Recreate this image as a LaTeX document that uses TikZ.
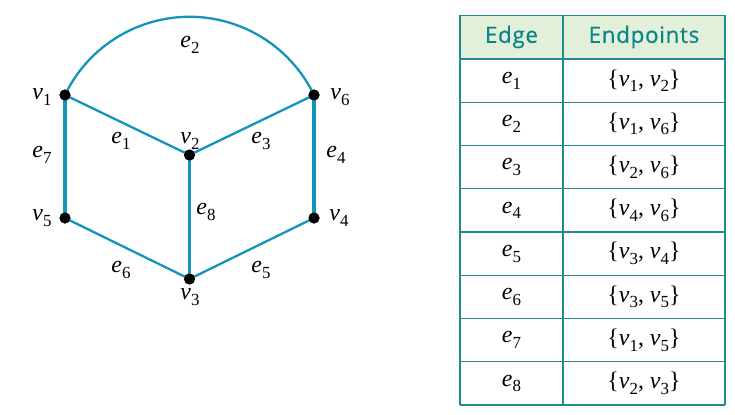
\documentclass[tikz,border=0pt]{standalone}
\usepackage{fontspec}
\newfontfamily\tms{Liberation Serif}
\newfontfamily\hdr[LetterSpace=3,FakeBold=0.6]{Open Sans}
\definecolor{edgeblue}{RGB}{20,148,188}
\definecolor{tealline}{RGB}{30,140,140}
\definecolor{tealtext}{RGB}{10,134,138}
\definecolor{hdrfill}{RGB}{226,239,217}
\newcommand\lab[2]{{\tms\textit{#1}\raisebox{-0.24em}{\fontsize{17}{17}\selectfont #2}}}
\newcommand\pr[2]{{\tms\{\lab{v}{#1}, \lab{v}{#2}\}}}
\begin{document}
\begin{tikzpicture}[x=1bp,y=1bp,
  dot/.style={circle,fill=black,inner sep=0pt,minimum size=11bp},
  thinedge/.style={draw=edgeblue,line width=2.3bp},
  thickedge/.style={draw=edgeblue,line width=3.3bp},
  lbl/.style={inner sep=0pt,font=\tms\fontsize{24}{24}\selectfont},
  tline/.style={draw=tealline,line width=1.3bp},
  hd/.style={inner sep=0pt,text=tealtext,font=\hdr\fontsize{22.5}{22.5}\selectfont},
  cell/.style={inner sep=0pt,font=\tms\fontsize{24}{24}\selectfont}]
\useasboundingbox (0,0) rectangle (735,414);
% vertices
\node[dot] (v1) at (65,319) {};
\node[dot] (v6) at (314,319) {};
\node[dot] (v2) at (189.5,259) {};
\node[dot] (v5) at (65,196) {};
\node[dot] (v4) at (314,196) {};
\node[dot] (v3) at (189.5,135) {};
% edges
\draw[thinedge] (v1.center) -- (v2.center);
\draw[thinedge] (v2.center) -- (v6.center);
\draw[thinedge] (v5.center) -- (v3.center);
\draw[thinedge] (v3.center) -- (v4.center);
\draw[thickedge] (v1.center) -- (v5.center);
\draw[thickedge] (v6.center) -- (v4.center);
\draw[thickedge] (v2.center) -- (v3.center);
\draw[thinedge] (v1.center) arc[start angle=154.27, end angle=25.73, radius=138.2bp];
% redraw dots on top
\foreach \n in {v1,v2,v3,v4,v5,v6} \fill (\n) circle[radius=5.5bp];
% labels
\node[lbl] (lv1) at (42,317) {\lab{v}{1}};
\node[lbl] (lv6) at (340,317) {\lab{v}{6}};
\node[lbl] (lv2) at (190,273) {\lab{v}{2}};
\node[lbl] (lv5) at (42,196) {\lab{v}{5}};
\node[lbl] (lv4) at (339,196) {\lab{v}{4}};
\node[lbl] (lv3) at (190,117) {\lab{v}{3}};
\node[lbl] (le1) at (121,273) {\lab{e}{1}};
\node[lbl] (le3) at (261,273) {\lab{e}{3}};
\node[lbl] (le7) at (42,259) {\lab{e}{7}};
\node[lbl] (le4) at (336,259) {\lab{e}{4}};
\node[lbl] (le8) at (206,202) {\lab{e}{8}};
\node[lbl] (le6) at (121,144) {\lab{e}{6}};
\node[lbl] (le5) at (261,144) {\lab{e}{5}};
\node[lbl] (le2) at (190,369) {\lab{e}{2}};
% table
\fill[hdrfill] (460,355) rectangle (725,398.5);
\foreach \k in {0,...,8} \draw[tline] (460,{355-43.25*\k}) -- (725,{355-43.25*\k});
\draw[tline] (460,398.5) -- (725,398.5);
\draw[tline] (460,398.5) -- (460,9);
\draw[tline] (563,398.5) -- (563,9);
\draw[tline] (725,398.5) -- (725,9);
\node[hd] (h1) at (511.5,377) {Edge};
\node[hd] (h2) at (644,377) {Endpoints};
\foreach \e/\a/\b [count=\i from 0] in {1/1/2,2/1/6,3/2/6,4/4/6,5/3/4,6/3/5,7/1/5,8/2/3} {
  \node[cell] (c\e) at (511.5,{333.4-43.25*\i}) {\lab{e}{\e}};
  \node[cell] (d\e) at (644,{333.4-43.25*\i}) {\pr{\a}{\b}};
}
\end{tikzpicture}
\end{document}
